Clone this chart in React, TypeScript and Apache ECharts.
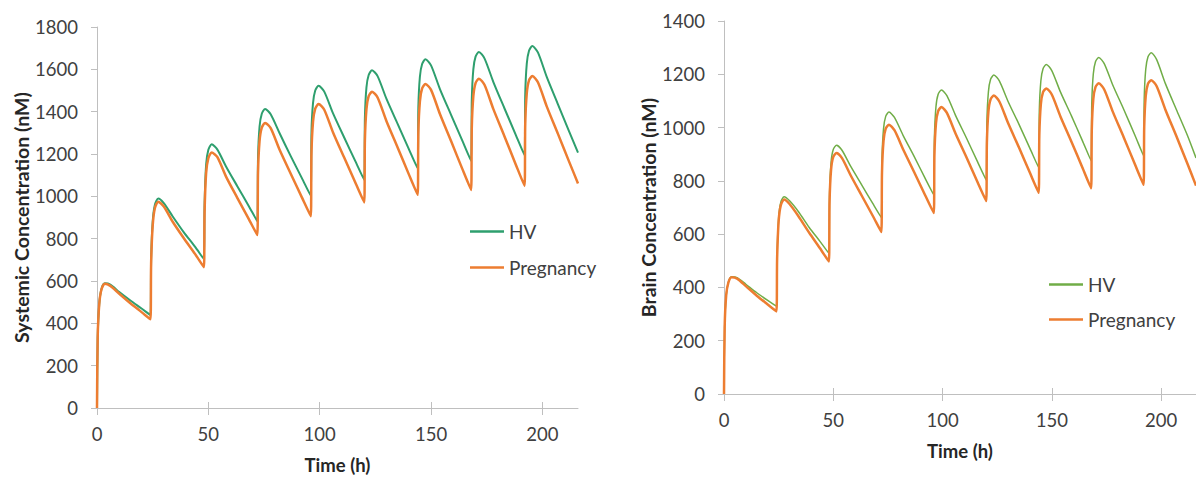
import React, { useEffect, useRef } from "react";
import * as echarts from "echarts";

const timeH = [
  0, 0.3, 1, 2, 3.5, 6, 10, 15, 20,
  24, 24.3, 25, 26, 27.5, 30, 34, 39, 44,
  48, 48.3, 49, 50, 51.5, 54, 58, 63, 68,
  72, 72.3, 73, 74, 75.5, 78, 82, 87, 92,
  96, 96.3, 97, 98, 99.5, 102, 106, 111, 116,
  120, 120.3, 121, 122, 123.5, 126, 130, 135, 140,
  144, 144.3, 145, 146, 147.5, 150, 154, 159, 164,
  168, 168.3, 169, 170, 171.5, 174, 178, 183, 188,
  192, 192.3, 193, 194, 195.5, 198, 202, 207, 212,
  216,
];

const systemicHV = [
  0, 330, 490, 562, 589, 583, 548, 508, 470,
  439, 700, 880, 960, 990, 968, 905, 830, 762,
  703, 960, 1150, 1220, 1246, 1222, 1140, 1048, 957,
  882, 1180, 1330, 1390, 1413, 1388, 1298, 1190, 1086,
  1002, 1300, 1440, 1500, 1522, 1496, 1392, 1278, 1166,
  1077, 1370, 1515, 1573, 1596, 1568, 1460, 1342, 1224,
  1131, 1420, 1565, 1625, 1648, 1619, 1507, 1385, 1264,
  1167, 1455, 1600, 1660, 1682, 1652, 1540, 1415, 1292,
  1194, 1480, 1627, 1688, 1710, 1680, 1563, 1435, 1307,
  1206,
];

const systemicPreg = [
  0, 330, 490, 560, 587, 577, 540, 495, 453,
  419, 680, 860, 945, 975, 952, 880, 802, 728,
  665, 920, 1110, 1180, 1207, 1186, 1092, 993, 896,
  817, 1110, 1262, 1325, 1347, 1322, 1220, 1107, 995,
  906, 1200, 1352, 1414, 1436, 1410, 1302, 1183, 1065,
  971, 1262, 1412, 1473, 1494, 1467, 1355, 1231, 1105,
  1007, 1298, 1449, 1510, 1531, 1503, 1389, 1261, 1131,
  1030, 1322, 1473, 1535, 1556, 1527, 1412, 1283, 1152,
  1049, 1338, 1487, 1548, 1568, 1539, 1424, 1295, 1164,
  1061,
];

const brainHV = [
  0, 250, 370, 420, 440, 437, 412, 380, 351,
  329, 520, 660, 720, 740, 725, 685, 625, 572,
  528, 750, 870, 918, 934, 915, 854, 785, 716,
  662, 880, 995, 1042, 1058, 1038, 970, 892, 810,
  747, 965, 1078, 1125, 1141, 1120, 1045, 960, 872,
  803, 1020, 1134, 1181, 1197, 1175, 1098, 1012, 922,
  850, 1065, 1175, 1221, 1237, 1214, 1133, 1044, 951,
  875, 1090, 1201, 1247, 1263, 1240, 1158, 1067, 972,
  894, 1108, 1219, 1265, 1281, 1255, 1165, 1068, 972,
  886,
];

const brainPreg = [
  0, 250, 370, 418, 438, 433, 405, 369, 336,
  310, 505, 648, 709, 730, 713, 668, 605, 546,
  497, 720, 842, 890, 905, 885, 820, 745, 670,
  608, 830, 950, 996, 1011, 990, 918, 833, 747,
  679, 898, 1016, 1062, 1077, 1055, 977, 888, 796,
  724, 942, 1060, 1106, 1120, 1098, 1017, 925, 830,
  755, 971, 1088, 1133, 1147, 1124, 1041, 947, 850,
  772, 989, 1107, 1152, 1166, 1143, 1058, 962, 863,
  785, 1001, 1119, 1164, 1178, 1155, 1067, 968, 866,
  782,
];

const xTicks = [0, 50, 100, 150, 200];
const seriesNames = ["HV", "Pregnancy"];

const FONT = "Lato";
const LABEL_COLOR = "#404040";
const TITLE_COLOR = "#262626";
const AXIS_COLOR = "#BFBFBF";
const GREEN_LEFT = "#2E9F6E";
const GREEN_RIGHT = "#70AD47";
const ORANGE = "#ED7D31";

const pair = (ys: number[]) => timeH.map((t, i) => [t, ys[i]]);

function xAxesFor(gridIndex: number) {
  return [
    {
      gridIndex,
      type: "value",
      min: 0,
      max: 216,
      position: "bottom",
      axisLine: { show: true, lineStyle: { color: AXIS_COLOR, width: 1 } },
      axisTick: {
        show: true,
        length: 7,
        customValues: xTicks,
        lineStyle: { color: AXIS_COLOR },
      },
      axisLabel: {
        customValues: xTicks,
        margin: 16,
        fontFamily: FONT,
        fontSize: 18.5,
        color: LABEL_COLOR,
      },
      splitLine: { show: false },
      name: "Time (h)",
      nameLocation: "middle",
      nameGap: 47,
      nameTextStyle: {
        fontFamily: FONT,
        fontSize: 18.5,
        fontWeight: "bold",
        color: TITLE_COLOR,
      },
    },
    {
      gridIndex,
      type: "value",
      min: 0,
      max: 216,
      position: "bottom",
      axisLine: { show: false },
      axisTick: {
        show: true,
        inside: true,
        length: 6,
        customValues: xTicks,
        lineStyle: { color: AXIS_COLOR },
      },
      axisLabel: { show: false },
      splitLine: { show: false },
    },
  ];
}

function yAxisFor(gridIndex: number, max: number, name: string, nameGap: number) {
  return {
    gridIndex,
    type: "value",
    min: 0,
    max,
    interval: 200,
    axisLine: { show: true, lineStyle: { color: AXIS_COLOR, width: 1 } },
    axisTick: { show: true, length: 6, lineStyle: { color: AXIS_COLOR } },
    axisLabel: {
      margin: 19,
      fontFamily: FONT,
      fontSize: 18.5,
      color: LABEL_COLOR,
      formatter: (v: number) => String(v),
    },
    splitLine: { show: false },
    name,
    nameLocation: "middle",
    nameGap,
    nameTextStyle: {
      fontFamily: FONT,
      fontSize: 19.5,
      fontWeight: "bold",
      color: TITLE_COLOR,
    },
  };
}

function legendFor(left: number, top: number, green: string, gap: number) {
  return {
    orient: "vertical",
    left,
    top,
    padding: 0,
    itemGap: gap,
    itemWidth: 34,
    itemHeight: 2.5,
    icon: "rect",
    selectedMode: false,
    textStyle: { fontFamily: FONT, fontSize: 19, color: LABEL_COLOR },
    data: [
      { name: seriesNames[0], itemStyle: { color: green } },
      { name: seriesNames[1], itemStyle: { color: ORANGE } },
    ],
  };
}

function lineSeries(name: string, xAxisIndex: number, yAxisIndex: number, ys: number[], color: string, width: number) {
  return {
    name,
    type: "line",
    xAxisIndex,
    yAxisIndex,
    symbol: "none",
    smooth: 0.25,
    data: pair(ys),
    lineStyle: { color, width, join: "round" },
    itemStyle: { color },
  };
}

export default function App() {
  const ref = useRef<HTMLDivElement>(null);

  useEffect(() => {
    if (!ref.current) return;
    const chart = echarts.init(ref.current, null, { renderer: "svg" });
    chart.setOption({
      animation: false,
      backgroundColor: "#ffffff",
      grid: [
        { left: 97, top: 27, width: 481, height: 384 },
        { left: 724, top: 21, width: 474, height: 373 },
      ],
      xAxis: [...xAxesFor(0), ...xAxesFor(1)],
      yAxis: [
        yAxisFor(0, 1800, "Systemic Concentration (nM)", 65),
        yAxisFor(1, 1400, "Brain Concentration (nM)", 66),
      ],
      legend: [
        legendFor(470, 222, GREEN_LEFT, 17),
        legendFor(1049, 275, GREEN_RIGHT, 16),
      ],
      series: [
        lineSeries(seriesNames[0], 0, 0, systemicHV, GREEN_LEFT, 2),
        lineSeries(seriesNames[1], 0, 0, systemicPreg, ORANGE, 2.5),
        lineSeries(seriesNames[0], 2, 1, brainHV, GREEN_RIGHT, 1.5),
        lineSeries(seriesNames[1], 2, 1, brainPreg, ORANGE, 2.5),
      ],
    });
    return () => chart.dispose();
  }, []);

  return (
    <div
      ref={ref}
      style={{ position: "fixed", left: 0, top: 0, width: 1196, height: 479 }}
    />
  );
}
